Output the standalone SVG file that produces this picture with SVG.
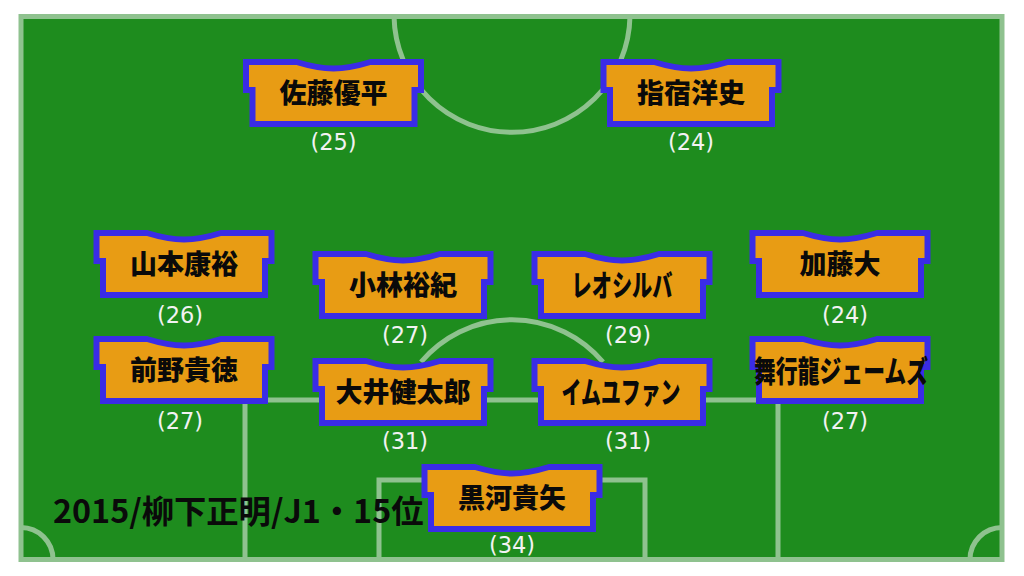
<svg xmlns="http://www.w3.org/2000/svg" width="1024" height="576" viewBox="0 0 1024 576">
<style>
.ln{fill:none;stroke:#8fc28f;stroke-width:5}
.shirt{fill:#e89c14;stroke:#3a2ce6;stroke-width:6}
.nm{font-family:"Noto Sans CJK JP","Noto Sans",sans-serif;font-weight:900;font-size:27px;fill:#0a0a0a;text-anchor:middle}
.tall{font-size:30px}
.age{font-family:"DejaVu Sans",sans-serif;font-size:22.500px;fill:#f2f2f2;text-anchor:middle}
.ttl{font-family:"Noto Sans CJK JP","Noto Sans",sans-serif;font-weight:700;font-size:32.300px;fill:#0a0a0a}
</style>
<defs>
<path id="s" class="shirt" d="M-87.500-31H-37C-24-27-13-24.500 0-24.500C13-24.500 24-27 37-31H87.500V-3H81V31H-81V-3H-87.500Z"/>
</defs>
<rect width="1024" height="576" fill="#fff"/>
<g id="pitch">
<rect x="21" y="16.500" width="981" height="543" class="ln" style="fill:#1e8c1e"/>
<path class="ln" d="M394.020 16.500A118 118 0 0 0 629.980 16.500"/>
<path class="ln" d="M245 559.500V400H778V559.500"/>
<path class="ln" d="M379 559.500V480H645V559.500"/>
<path class="ln" d="M421 362A119 119 0 0 1 603 362"/>
<path class="ln" d="M21 527.500A32 32 0 0 1 53 559.500"/>
<path class="ln" d="M1002 527.500A32 32 0 0 0 970 559.500"/>
</g>
<text id="title" class="ttl" x="53" y="523">2015/柳下正明/J1・15位</text>
<g id="n1" transform="translate(333.500 93)"><use href="#s"/><text class="nm" y="10">佐藤優平</text><text class="age" y="57">(25)</text></g>
<g id="n2" transform="translate(691 93)"><use href="#s"/><text class="nm" y="10">指宿洋史</text><text class="age" y="57">(24)</text></g>
<g id="n3" transform="translate(184 264)"><use href="#s"/><text class="nm" y="10">山本康裕</text><text class="age" x="-4" y="59">(26)</text></g>
<g id="n4" transform="translate(403 285)"><use href="#s"/><text class="nm" y="10">小林裕紀</text><text class="age" x="2" y="58">(27)</text></g>
<g id="n5" transform="translate(622 285)"><use href="#s"/><text class="nm tall" y="11" textLength="101" lengthAdjust="spacingAndGlyphs">レオシルバ</text><text class="age" x="6" y="58">(29)</text></g>
<g id="n6" transform="translate(840 264)"><use href="#s"/><text class="nm" y="10">加藤大</text><text class="age" x="5" y="59">(24)</text></g>
<g id="n7" transform="translate(184 370)"><use href="#s"/><text class="nm" y="10">前野貴徳</text><text class="age" x="-4" y="59">(27)</text></g>
<g id="n8" transform="translate(403 392)"><use href="#s"/><text class="nm" y="10">大井健太郎</text><text class="age" x="2" y="57">(31)</text></g>
<g id="n9" transform="translate(622 392)"><use href="#s"/><text class="nm tall" x="-1" y="11" textLength="119" lengthAdjust="spacingAndGlyphs">イムユファン</text><text class="age" x="6" y="57">(31)</text></g>
<g id="n10" transform="translate(840 370)"><use href="#s"/><text class="nm tall" x="1" y="12" textLength="174" lengthAdjust="spacingAndGlyphs">舞行龍ジェームズ</text><text class="age" x="5" y="59">(27)</text></g>
<g id="n11" transform="translate(512 498)"><use href="#s"/><text class="nm" y="10">黒河貴矢</text><text class="age" y="55">(34)</text></g>
<g id="connectors"></g>
</svg>
